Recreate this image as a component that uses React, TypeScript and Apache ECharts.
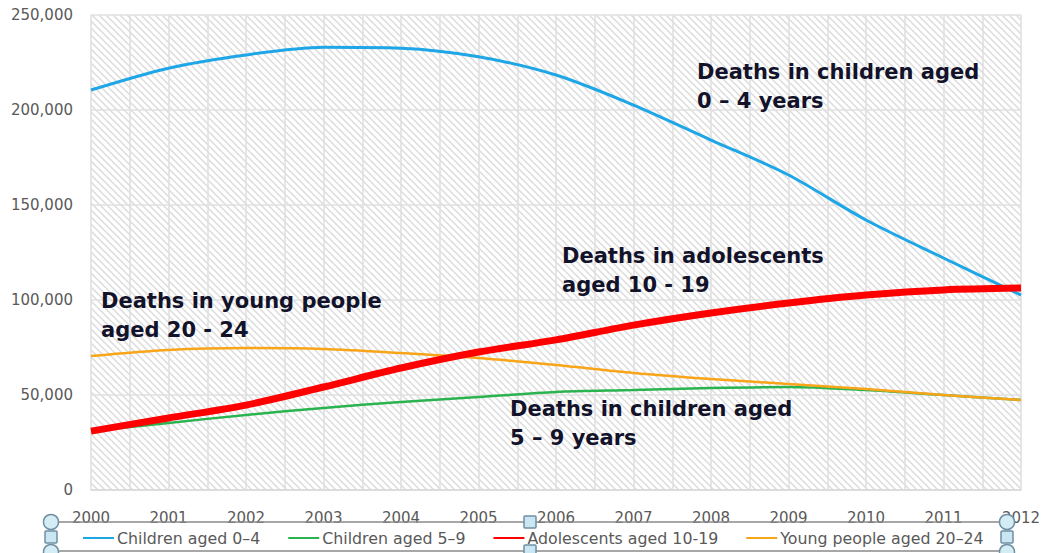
import React, { useEffect, useRef } from "react";
import * as echarts from "echarts";

const years = [2000, 2001, 2002, 2003, 2004, 2005, 2006, 2007, 2008, 2009, 2010, 2011, 2012];
const children0to4 = [210500, 222000, 229000, 233000, 232500, 228000, 218400, 202600, 184200, 165800, 142100, 122100, 102600];
const children5to9 = [31000, 35300, 39500, 43200, 46300, 48900, 51600, 52600, 53700, 54200, 52600, 50000, 47400];
const adolescents10to19 = [31000, 37900, 44700, 54200, 64200, 72600, 79000, 86800, 93200, 98400, 102600, 105300, 106300];
const young20to24 = [70500, 73700, 74700, 74200, 72100, 69500, 65800, 61600, 58400, 55800, 53200, 50000, 47400];
const seriesNames = ["Children aged 0–4", "Children aged 5–9", "Adolescents aged 10-19", "Young people aged 20–24"];
const yTicks = { min: 0, max: 250000, step: 50000 };

// light diagonal hatch used as the plot-area fill
const hatchSvg =
  "<svg xmlns='http://www.w3.org/2000/svg' width='7' height='7'>" +
  "<rect width='7' height='7' fill='white'/>" +
  "<path d='M-1,-1 L8,8 M-1,6 L1,8 M6,-1 L8,1' stroke='#dcdcdc' stroke-width='1.5'/></svg>";
const hatchUrl = "data:image/svg+xml;charset=utf-8," + encodeURIComponent(hatchSvg);

const pairs = (vals: number[]) => years.map((y, i) => [y, vals[i]]);

const annotation = (left: number, top: number, text: string) => ({
  type: "text",
  left,
  top,
  z: 10,
  style: {
    text,
    fill: "#12122a",
    font: "bold 21px 'DejaVu Sans'",
    lineHeight: 29,
  },
});

const handleCircle = (cx: number, cy: number) => ({
  type: "circle",
  shape: { cx, cy, r: 7.5 },
  z: 20,
  style: { fill: "#d4ecf3", stroke: "#6f8fa3", lineWidth: 1.5 },
});
const handleSquare = (cx: number, cy: number) => ({
  type: "rect",
  shape: { x: cx - 6, y: cy - 6, width: 12, height: 12, r: 1 },
  z: 20,
  style: { fill: "#c9e6f2", stroke: "#6f8fa3", lineWidth: 1.5 },
});

export default function App() {
  const ref = useRef<HTMLDivElement>(null);
  useEffect(() => {
    if (!ref.current) return;
    const chart = echarts.init(ref.current, undefined, { renderer: "svg" });
    const gridLine = { show: true, lineStyle: { color: "#e0e0e0", width: 1.6 } };
    const lineSeries = (name: string, vals: number[], color: string, width: number, z = 2) => ({
      name,
      type: "line",
      data: pairs(vals),
      smooth: 0.3,
      showSymbol: false,
      symbol: "none",
      z,
      lineStyle: { color, width },
      itemStyle: { color },
    });
    chart.setOption({
      animation: false,
      backgroundColor: "#ffffff",
      grid: {
        left: 91,
        right: 23,
        top: 15,
        bottom: 63,
        show: true,
        borderWidth: 0,
        backgroundColor: { image: hatchUrl, repeat: "repeat", imageWidth: 7, imageHeight: 7 },
      },
      xAxis: {
        type: "value",
        min: 2000,
        max: 2012,
        interval: 0.5,
        axisLine: { show: true, lineStyle: { color: "#d9d9d9", width: 1.6 } },
        axisTick: { show: false },
        splitLine: gridLine,
        axisLabel: {
          margin: 20,
          color: "#595959",
          fontFamily: "DejaVu Sans",
          fontSize: 15,
          formatter: (v: number) => (Number.isInteger(v) ? String(v) : ""),
        },
      },
      yAxis: {
        type: "value",
        min: yTicks.min,
        max: yTicks.max,
        interval: yTicks.step,
        axisLine: { show: false },
        axisTick: { show: false },
        splitLine: gridLine,
        axisLabel: {
          margin: 18,
          color: "#595959",
          fontFamily: "DejaVu Sans",
          fontSize: 15,
          formatter: (v: number) => v.toLocaleString("en-US"),
        },
      },
      legend: {
        data: seriesNames.map((name) => ({ name, lineStyle: { width: 2 } })),
        left: 78,
        top: 525,
        icon: "rect",
        itemWidth: 31,
        itemHeight: 2,
        itemGap: 28,
        itemStyle: { borderWidth: 0 },
        lineStyle: { width: 2 },
        textStyle: { color: "#595959", fontFamily: "DejaVu Sans", fontSize: 15.8, padding: [0, 0, 0, -2] },
      },
      series: [
        lineSeries(seriesNames[0], children0to4, "#1ea6e6", 3),
        lineSeries(seriesNames[1], children5to9, "#2ab34e", 2.5),
        lineSeries(seriesNames[2], adolescents10to19, "#ff0000", 7, 4),
        lineSeries(seriesNames[3], young20to24, "#f9a51a", 2.5, 3),
      ],
      graphic: [
        annotation(697, 57, "Deaths in children aged\n0 – 4 years"),
        annotation(562, 241, "Deaths in adolescents\naged 10 - 19"),
        annotation(101, 286, "Deaths in young people\naged 20 - 24"),
        annotation(510, 394, "Deaths in children aged\n5 – 9 years"),
        { type: "line", shape: { x1: 51, y1: 522, x2: 1007, y2: 522 }, z: 19, style: { stroke: "#8a8a8a", lineWidth: 1.5 } },
        { type: "line", shape: { x1: 51, y1: 551, x2: 1007, y2: 551 }, z: 19, style: { stroke: "#8a8a8a", lineWidth: 1.5 } },
        handleCircle(51, 522),
        handleCircle(1007, 522),
        handleCircle(51, 552),
        handleCircle(1007, 552),
        handleSquare(530, 522),
        handleSquare(530, 551),
        handleSquare(51, 537),
        handleSquare(1007, 537),
      ],
    });
    return () => chart.dispose();
  }, []);
  return (
    <div
      ref={ref}
      style={{ position: "fixed", left: 0, top: 0, width: 1044, height: 553 }}
    />
  );
}
